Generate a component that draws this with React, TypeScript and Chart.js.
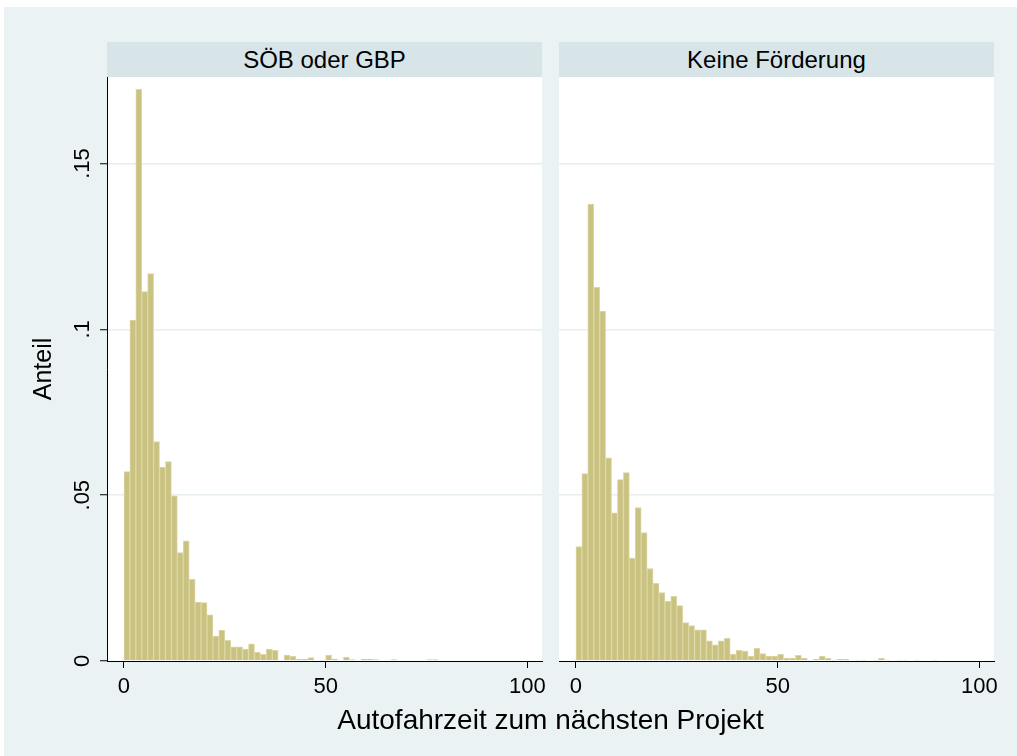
import React, { useEffect, useRef } from "react";
import { Chart, registerables } from "chart.js";

Chart.register(...registerables);

// ---- data ----
const binWidth = 1.47;
const panelTitles = ["SÖB oder GBP", "Keine Förderung"];
const xAxisTitle = "Autofahrzeit zum nächsten Projekt";
const yAxisTitle = "Anteil";
const xTicks = [0, 50, 100];
const xTickLabels = ["0", "50", "100"];
const yTicks = [0, 0.05, 0.1, 0.15];
const yTickLabels = ["0", ".05", ".1", ".15"];

// share per bin (bin i covers [i*binWidth, (i+1)*binWidth])
const shareSoebGbp = [
  0.0571, 0.1028, 0.1724, 0.1114, 0.1168, 0.0662, 0.0585, 0.0601, 0.0498, 0.0327,
  0.0362, 0.0246, 0.0178, 0.0176, 0.0139, 0.0075, 0.0093, 0.0062, 0.0043, 0.0043,
  0.0036, 0.0052, 0.0026, 0.002, 0.0036, 0.0032, 0, 0.0018, 0.0014, 0.0005,
  0.0005, 0.001, 0, 0.0003, 0.0018, 0.0006, 0, 0.0012, 0.0004, 0,
  0.0006, 0.0006, 0.0004, 0, 0, 0.0004, 0, 0, 0, 0,
  0, 0.0004, 0.0004,
];
const shareKeineFoerderung = [
  0.0345, 0.0565, 0.1378, 0.1127, 0.1055, 0.0613, 0.0447, 0.0547, 0.0568, 0.031,
  0.0463, 0.0387, 0.0279, 0.0234, 0.0206, 0.0181, 0.0195, 0.0167, 0.0116, 0.0107,
  0.0094, 0.0094, 0.0061, 0.0049, 0.0061, 0.0068, 0.0021, 0.0032, 0.003, 0.0015,
  0.0038, 0.0022, 0.0015, 0.0015, 0.002, 0.0009, 0.0009, 0.0017, 0.0009, 0,
  0.0005, 0.0015, 0.0008, 0.0003, 0.0005, 0.0005, 0, 0.0003, 0.0003, 0,
  0.0003, 0.0008, 0.0003, 0, 0.0003, 0.0003, 0, 0.0003, 0, 0,
  0.0003,
];

const FONT = "'Liberation Sans', Arial, Helvetica, sans-serif";
const OUTER_BG = "#EAF2F3";
const HEADER_BG = "#D7E5E9";
const GRID = "#E6EEF0";
const BAR_FILL = "#CAC280";
const BAR_EDGE = "#DCD7A6";

function makeConfig(values: number[], showY: boolean, rightPad: number): any {
  const data = values.map((v, i) => ({ x: (i + 0.5) * binWidth, y: v === 0 ? null : v }));
  return {
    type: "bar",
    data: {
      datasets: [
        {
          data,
          backgroundColor: BAR_FILL,
          borderColor: BAR_EDGE,
          borderWidth: 1,
          borderSkipped: "start",
          barPercentage: 1,
          categoryPercentage: 1,
        },
      ],
    },
    options: {
      animation: false,
      responsive: false,
      maintainAspectRatio: false,
      layout: { padding: { top: 0, left: 0, right: rightPad, bottom: 0 } },
      plugins: { legend: { display: false }, tooltip: { enabled: false }, title: { display: false } },
      scales: {
        x: {
          type: "linear",
          min: -4.2,
          max: 103.6,
          offset: false,
          afterBuildTicks: (s: any) => {
            s.ticks = xTicks.map((v) => ({ value: v }));
          },
          afterFit: (s: any) => {
            s.height = 95;
            s.paddingLeft = 0;
            s.paddingRight = 0;
          },
          grid: {
            display: true,
            offset: false,
            drawOnChartArea: false,
            drawTicks: true,
            tickLength: 7,
            tickColor: "#000",
            tickWidth: 1,
          },
          border: { display: true, color: "#000", width: 1 },
          ticks: {
            autoSkip: false,
            maxRotation: 0,
            minRotation: 0,
            padding: 6,
            color: "#000",
            font: { family: FONT, size: 22 },
            callback: (v: number) => xTickLabels[xTicks.indexOf(v)],
          },
        },
        y: {
          type: "linear",
          min: 0,
          max: 0.1761,
          afterBuildTicks: (s: any) => {
            s.ticks = yTicks.map((v) => ({ value: v }));
          },
          afterFit: (s: any) => {
            s.width = showY ? 107 : 0;
            s.paddingTop = 0;
            s.paddingBottom = 0;
          },
          grid: {
            display: true,
            drawTicks: showY,
            tickLength: 7,
            tickColor: "#000",
            tickWidth: 1,
            lineWidth: 1.5,
            color: (ctx: any) => (ctx.tick && ctx.tick.value === 0 ? "rgba(0,0,0,0)" : GRID),
          },
          border: { display: showY, color: "#000", width: 1 },
          ticks: {
            display: showY,
            minRotation: 90,
            maxRotation: 90,
            crossAlign: "center",
            padding: 2,
            color: "#000",
            font: { family: FONT, size: 22 },
            callback: (v: number) => yTickLabels[yTicks.indexOf(v)],
          },
          title: {
            display: showY,
            text: yAxisTitle,
            color: "#000",
            font: { family: FONT, size: 25 },
            padding: { top: 29, bottom: 0 },
          },
        },
      },
    },
  };
}

function Panel(props: { values: number[]; showY: boolean; left: number; width: number; rightPad: number }) {
  const ref = useRef<HTMLCanvasElement | null>(null);
  useEffect(() => {
    if (!ref.current) return;
    const chart = new Chart(ref.current, makeConfig(props.values, props.showY, props.rightPad));
    return () => chart.destroy();
  }, []);
  return (
    <canvas
      ref={ref}
      width={props.width}
      height={679}
      style={{ position: "absolute", left: props.left, top: 77, width: props.width, height: 679 }}
    />
  );
}

export default function App() {
  const headerStyle = (left: number): React.CSSProperties => ({
    position: "absolute",
    left,
    top: 42,
    width: 435,
    height: 35,
    background: HEADER_BG,
    color: "#000",
    fontFamily: FONT,
    fontSize: 24,
    lineHeight: "35px",
    textAlign: "center",
    whiteSpace: "nowrap",
  });
  return (
    <div style={{ position: "absolute", left: 0, top: 0, width: 1017, height: 756, background: "#fff", overflow: "hidden" }}>
      <div style={{ position: "absolute", left: 4, top: 7, width: 1013, height: 749, background: OUTER_BG }} />
      <div style={{ position: "absolute", left: 107, top: 77, width: 435, height: 584, background: "#fff" }} />
      <div style={{ position: "absolute", left: 559, top: 77, width: 435, height: 584, background: "#fff" }} />
      <div style={headerStyle(107)}>{panelTitles[0]}</div>
      <div style={headerStyle(559)}>{panelTitles[1]}</div>
      <Panel values={shareSoebGbp} showY={true} left={0} width={550} rightPad={8} />
      <Panel values={shareKeineFoerderung} showY={false} left={559} width={458} rightPad={23} />
      <div
        style={{
          position: "absolute",
          left: 107,
          width: 887,
          top: 703,
          textAlign: "center",
          fontFamily: FONT,
          fontSize: 28,
          lineHeight: "34px",
          color: "#000",
          whiteSpace: "nowrap",
        }}
      >
        {xAxisTitle}
      </div>
    </div>
  );
}
